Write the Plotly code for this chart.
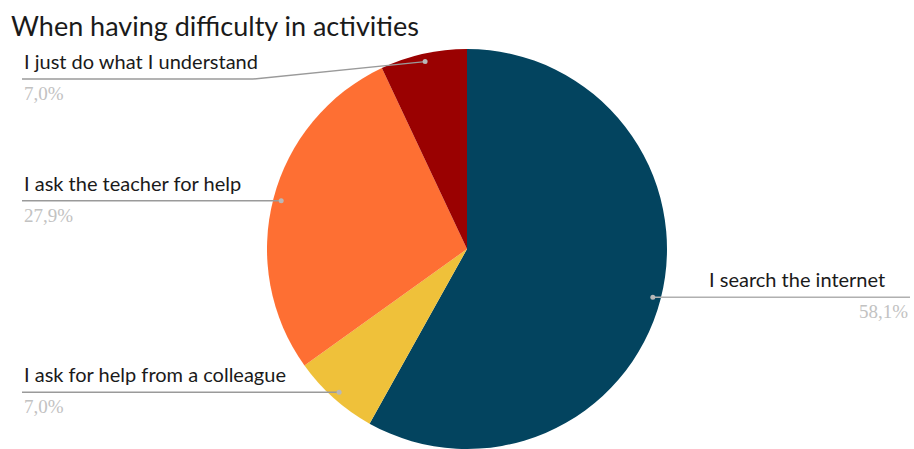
import math
import plotly.graph_objects as go

# Survey answers, listed clockwise from 12 o'clock
answers = ["I search the internet", "I ask for help from a colleague",
           "I ask the teacher for help", "I just do what I understand"]
shares = [58.1, 7.0, 27.9, 7.0]
colors = ["#03445f", "#efc13a", "#fe6f33", "#9a0101"]

W, H = 914, 449
TOP = 49                  # space above the pie for the title
CX = 467                  # horizontal centre of the pie, px
R = (H - TOP) / 2         # pie radius from the domain height
CY = TOP + R

# label blocks: left x, text anchor side, y of the guide line (None = follow the slice)
label_x = [910, 22, 22, 22]
label_side = ["right", "left", "left", "left"]
line_y_fixed = [None, None, None, 79]

fig = go.Figure(go.Pie(
    labels=answers, values=shares, sort=False, direction="clockwise",
    rotation=0, marker=dict(colors=colors, line=dict(width=0)),
    textinfo="none", hoverinfo="label+percent", showlegend=False,
    domain=dict(x=[(CX - 300) / W, (CX + 300) / W], y=[0, 1 - TOP / H]),
))

def px(x):
    return x / W

def py(y):
    return 1 - y / H

shapes, notes = [], []
total = sum(shares)
acc = 0.0
for name, v, lx, side, ly in zip(answers, shares, label_x, label_side, line_y_fixed):
    mid = (acc + v / 2) / total * 2 * math.pi
    acc += v
    ax = CX + 0.96 * R * math.sin(mid)
    ay = CY - 0.96 * R * math.cos(mid)
    gy = ay if ly is None else ly
    if side == "left":
        elbow = ax if ly is None else 253
        shapes.append(dict(type="line", xref="paper", yref="paper",
                           x0=px(lx), y0=py(gy), x1=px(elbow), y1=py(gy),
                           line=dict(color="#9a9a9a", width=1.5)))
        if ly is not None:
            shapes.append(dict(type="line", xref="paper", yref="paper",
                               x0=px(elbow), y0=py(gy), x1=px(ax), y1=py(ay),
                               line=dict(color="#9a9a9a", width=1.5)))
    else:
        shapes.append(dict(type="line", xref="paper", yref="paper",
                           x0=px(ax), y0=py(gy), x1=px(lx), y1=py(gy),
                           line=dict(color="#b0b0b0", width=1.5)))
    shapes.append(dict(type="circle", xref="paper", yref="paper",
                       x0=px(ax - 2.5), x1=px(ax + 2.5), y0=py(ay - 2.5), y1=py(ay + 2.5),
                       fillcolor="#b8b8b8", line=dict(width=0)))
    xa = "left" if side == "left" else "right"
    tx = lx if side == "left" else lx - 23
    notes.append(dict(x=px(tx), y=py(gy - 4), xref="paper", yref="paper",
                      text=name, showarrow=False, xanchor=xa, yanchor="bottom",
                      font=dict(family="Lato", size=20, color="#1a1a1a")))
    notes.append(dict(x=px(lx), y=py(gy + 2), xref="paper", yref="paper",
                      text=f"{v:.1f}".replace(".", ",") + "%", showarrow=False,
                      xanchor=xa, yanchor="top",
                      font=dict(family="Liberation Serif", size=19, color="#c2c2c2")))

notes.append(dict(x=px(9), y=py(25), xref="paper", yref="paper",
                  text="When having difficulty in activities", showarrow=False,
                  xanchor="left", yanchor="middle",
                  font=dict(family="Lato", size=27, color="#1a1a1a")))

fig.update_layout(width=W, height=H, margin=dict(l=0, r=0, t=0, b=0),
                  paper_bgcolor="white", plot_bgcolor="white",
                  shapes=shapes, annotations=notes)
fig.write_html("out.html")
